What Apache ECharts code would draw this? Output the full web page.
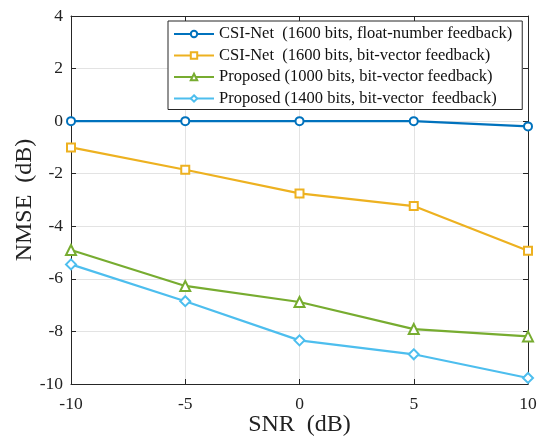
<!DOCTYPE html>
<html>
<head>
<meta charset="utf-8">
<script src="https://cdn.jsdelivr.net/npm/echarts@6/dist/echarts.min.js"></script>
<style>
html,body{margin:0;padding:0;background:#fff;}
#chart{width:550px;height:437px;}
</style>
</head>
<body>
<div id="chart"></div>
<script>
// SNR points (dB)
const snr = [-10, -5, 0, 5, 10];
// NMSE (dB) per scheme
const csiFloat1600 = [0, 0, 0, 0, -0.2];
const csiBit1600 = [-1.0, -1.85, -2.75, -3.23, -4.93];
const proposed1000 = [-4.9, -6.27, -6.88, -7.91, -8.19];
const proposed1400 = [-5.45, -6.85, -8.34, -8.87, -9.77];
const seriesNames = [
  'CSI-Net  (1600 bits, float-number feedback)',
  'CSI-Net  (1600 bits, bit-vector feedback)',
  'Proposed (1000 bits, bit-vector feedback)',
  'Proposed (1400 bits, bit-vector  feedback)'
];

const font = "'Liberation Serif', 'Times New Roman', serif";
const colors = ['#0072BD', '#EDB120', '#77AC30', '#4DBEEE'];
const symbols = ['emptyCircle', 'emptyRect', 'emptyTriangle', 'emptyDiamond'];
const sizes = [8, 8, 10, 10];
const values = [csiFloat1600, csiBit1600, proposed1000, proposed1400];

const chart = echarts.init(document.getElementById('chart'), null, {renderer: 'canvas'});

const axisLineStyle = {color: '#262626', width: 1};
const gridLine = {show: true, lineStyle: {color: '#e3e3e3', width: 1}};

const series = values.map((v, i) => ({
  name: seriesNames[i],
  type: 'line',
  data: v.map((y, j) => [snr[j], y]),
  color: colors[i],
  symbol: symbols[i],
  symbolSize: sizes[i],
  lineStyle: {width: 2.2, color: colors[i]},
  itemStyle: {color: colors[i], borderWidth: 2},
  z: 10 - i
}));

chart.setOption({
  animation: false,
  backgroundColor: '#fff',
  grid: {left: 71, right: 22, top: 16, bottom: 53, show: false, containLabel: false, outerBoundsMode: 'none'},
  legend: {
    orient: 'vertical',
    left: 168,
    top: 21,
    padding: [4, 10, 2, 5],
    itemGap: 3.5,
    itemWidth: 40,
    itemHeight: 8,
    backgroundColor: '#fff',
    borderColor: '#262626',
    borderWidth: 1,
    textStyle: {fontFamily: font, fontSize: 16.5, color: '#111', lineHeight: 18},
    data: seriesNames
  },
  xAxis: [{
    type: 'value', min: -10, max: 10, interval: 5,
    position: 'bottom',
    name: 'SNR  (dB)', nameLocation: 'middle', nameGap: 29, nameMoveOverlap: false,
    nameTextStyle: {fontFamily: font, fontSize: 24, color: '#222'},
    axisLine: {show: true, onZero: false, lineStyle: axisLineStyle},
    axisTick: {show: true, inside: true, length: 5, lineStyle: axisLineStyle},
    axisLabel: {fontFamily: font, fontSize: 17.5, color: '#222', margin: 11},
    splitLine: gridLine
  }, {
    type: 'value', min: -10, max: 10, interval: 5,
    position: 'top',
    axisLine: {show: true, onZero: false, lineStyle: axisLineStyle},
    axisTick: {show: true, inside: true, length: 5, lineStyle: axisLineStyle},
    axisLabel: {show: false},
    splitLine: {show: false}
  }],
  yAxis: [{
    type: 'value', min: -10, max: 4, interval: 2,
    position: 'left',
    name: 'NMSE  (dB)', nameLocation: 'middle', nameGap: 34, nameMoveOverlap: false,
    nameTextStyle: {fontFamily: font, fontSize: 24, color: '#222'},
    axisLine: {show: true, onZero: false, lineStyle: axisLineStyle},
    axisTick: {show: true, inside: true, length: 5, lineStyle: axisLineStyle},
    axisLabel: {fontFamily: font, fontSize: 17.5, color: '#222', margin: 8},
    splitLine: gridLine
  }, {
    type: 'value', min: -10, max: 4, interval: 2,
    position: 'right',
    axisLine: {show: true, onZero: false, lineStyle: axisLineStyle},
    axisTick: {show: true, inside: true, length: 5, lineStyle: axisLineStyle},
    axisLabel: {show: false},
    splitLine: {show: false}
  }],
  series: series
});
</script>
</body>
</html>
